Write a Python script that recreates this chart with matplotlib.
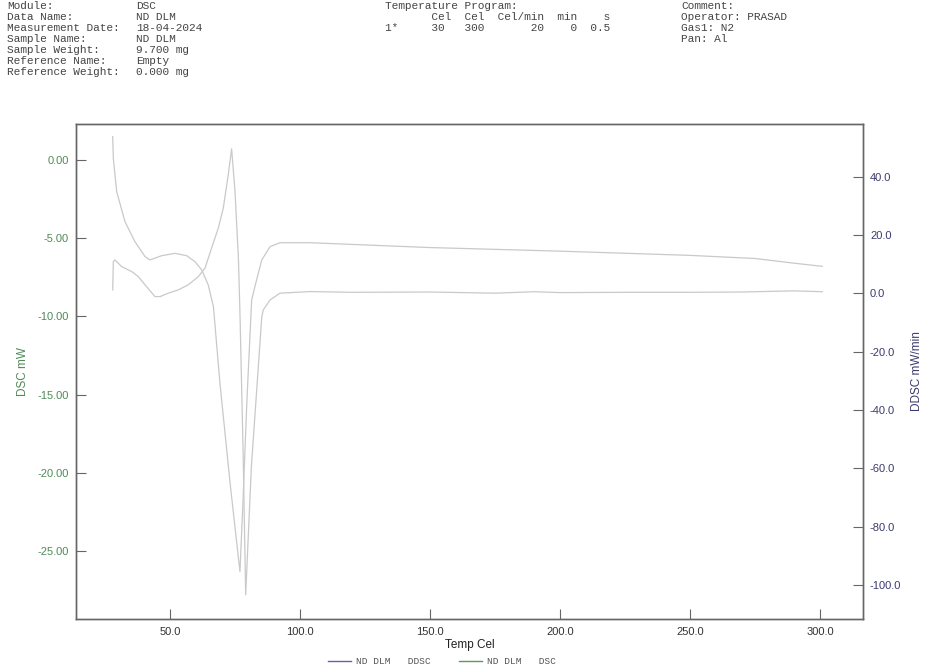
import matplotlib
matplotlib.use("Agg")
import matplotlib.pyplot as plt
from matplotlib.lines import Line2D

# DSC curve (mW)
dsc_temp = [27.96, 28.2, 29.5, 32.7, 36.5, 40.4, 42.3, 46.8, 51.9, 56.4, 59.6, 62.2, 64.7,
            66.7, 69.2, 73.1, 76.9, 78.1, 79.6, 81.4, 83.3, 85.3, 88.5, 92.3, 103.8,
            150.0, 200.0, 250.0, 275.0, 290.0, 300.8]
dsc_mw = [1.49, 0.11, -2.03, -3.95, -5.22, -6.18, -6.39, -6.12, -5.97, -6.12, -6.50, -7.03, -7.99,
          -9.38, -14.26, -20.65, -26.32, -21.7, -15.3, -8.95, -7.67, -6.39, -5.54, -5.29, -5.29,
          -5.6, -5.83, -6.1, -6.3, -6.6, -6.8]

# DDSC curve (mW/min)
ddsc_temp = [27.96, 28.2, 28.8, 31.4, 35.3, 37.8, 40.4, 44.2, 46.2, 49.3, 53.2, 57.0, 60.9,
             63.5, 66.0, 68.6, 70.5, 72.4, 73.7, 75.0, 76.3, 76.9, 78.1, 79.1, 81.3, 85.3,
             85.9, 88.5, 92.3, 103.8, 120.0, 150.0, 175.0, 190.0, 200.0, 225.0, 250.0,
             270.0, 290.0, 300.8]
ddsc_val = [1.13, 10.83, 11.4, 9.12, 7.40, 5.69, 2.85, -1.17, -1.17, 0.0, 1.13, 2.85, 5.69,
            8.67, 15.5, 22.4, 29.2, 40.6, 49.5, 34.8, 12.1, -6.75, -53.7, -103.4, -59.4, -8.0,
            -5.7, -2.3, 0.0, 0.55, 0.3, 0.4, 0.0, 0.5, 0.2, 0.3, 0.3, 0.4, 0.8, 0.5]

x_ticks = [50, 100, 150, 200, 250, 300]
left_ticks = [0, -5, -10, -15, -20, -25]
right_ticks = [40, 20, 0, -20, -40, -60, -80, -100]

info_left = [
    ("Module:", "DSC"),
    ("Data Name:", "ND DLM"),
    ("Measurement Date:", "18-04-2024"),
    ("Sample Name:", "ND DLM"),
    ("Sample Weight:", "9.700 mg"),
    ("Reference Name:", "Empty"),
    ("Reference Weight:", "0.000 mg"),
]
info_mid = [
    "Temperature Program:",
    "       Cel  Cel  Cel/min  min    s",
    "1*     30   300       20    0  0.5",
]
info_right = ["Comment:", "Operator: PRASAD", "Gas1: N2", "Pan: Al"]

W, H = 931, 668
GREEN = "#4f8a57"
NAVY = "#3a3a6e"
CURVE = "#c9c9c9"
SPINE = "#666666"
MONO = "Liberation Mono"
SANS = "Liberation Sans"

fig = plt.figure(figsize=(W / 100, H / 100), dpi=100)
fig.patch.set_facecolor("white")

left, right, top, bottom = 76, 863, 124, 619
ax = fig.add_axes([left / W, 1 - bottom / H, (right - left) / W, (bottom - top) / H])
ax2 = ax.twinx()

ax.plot(dsc_temp, dsc_mw, color=CURVE, lw=0.9)
ax2.plot(ddsc_temp, ddsc_val, color=CURVE, lw=0.9)

ax.set_xlim(13.85, 316.5)
ax.set_ylim(-29.35, 2.30)
ax2.set_ylim(-111.7, 58.0)

ax.set_xticks(x_ticks)
ax.set_xticklabels([f"{v:.1f}" for v in x_ticks], fontsize=8, family=SANS, color="#333333")
ax.set_yticks(left_ticks)
ax.set_yticklabels([f"{v:.2f}" for v in left_ticks], fontsize=8, family=SANS, color=GREEN)
ax2.set_yticks(right_ticks)
ax2.set_yticklabels([f"{v:.1f}" for v in right_ticks], fontsize=8, family=SANS, color=NAVY)

ax.tick_params(axis="both", direction="in", length=7, width=0.8, color=SPINE, pad=5)
ax.tick_params(axis="x", pad=6)
ax2.tick_params(axis="y", direction="in", length=7, width=0.8, color=SPINE, pad=5)
for a in (ax, ax2):
    for s in a.spines.values():
        s.set_color(SPINE)
        s.set_linewidth(1.0)

ax.set_xlabel("Temp Cel", fontsize=8.5, family=SANS, color="#222222", labelpad=1)
ax.set_ylabel("DSC mW", fontsize=8.5, family=SANS, color=GREEN, labelpad=6)
ax2.set_ylabel("DDSC mW/min", fontsize=8.5, family=SANS, color=NAVY, labelpad=7)

# header blocks
line_h = 11.1
for i, (k, v) in enumerate(info_left):
    y = 1 - (5.7 + i * line_h) / H
    fig.text(7 / W, y, k, fontsize=8, family=MONO, color="#444444", va="center")
    fig.text(136 / W, y, v, fontsize=8, family=MONO, color="#444444", va="center")
for i, s in enumerate(info_mid):
    fig.text(385 / W, 1 - (5.7 + i * line_h) / H, s, fontsize=8, family=MONO,
             color="#444444", va="center")
for i, s in enumerate(info_right):
    fig.text(681 / W, 1 - (5.7 + i * line_h) / H, s, fontsize=8, family=MONO,
             color="#444444", va="center")

# legend at the bottom
handles = [Line2D([], [], color="#6a60b0", lw=1.0), Line2D([], [], color="#5a9a5a", lw=1.0)]
fig.legend(handles, ["ND DLM   DDSC", "ND DLM   DSC"], loc="center",
           bbox_to_anchor=(442 / W, 1 - 661.5 / H), ncol=2, frameon=False,
           prop={"family": MONO, "size": 6.8}, labelcolor="#555555",
           handlelength=2.4, handletextpad=0.55, columnspacing=3.0, borderaxespad=0)

fig.savefig("out.png", dpi=100)
